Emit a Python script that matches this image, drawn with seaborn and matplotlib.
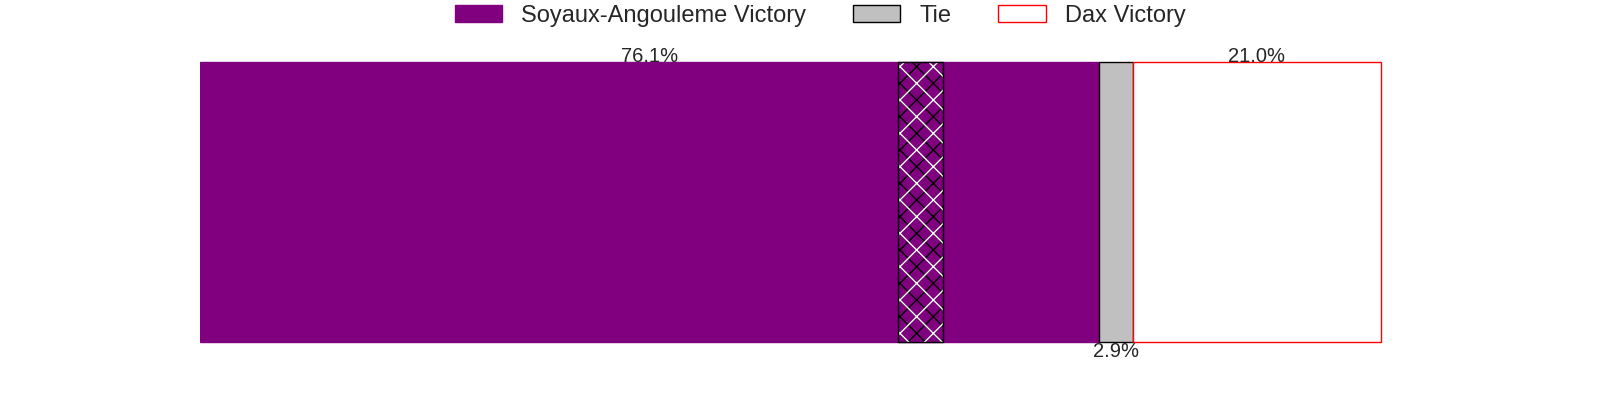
import numpy as np
import matplotlib
matplotlib.use('Agg')
import matplotlib.pyplot as plt
import seaborn as sns

# outcome shares (fractions)
outcomes = ['Soyaux-Angouleme Victory', 'Tie', 'Dax Victory']
shares = [0.761, 0.029, 0.210]
labels = ['76.1%', '2.9%', '21.0%']

# hatched band inside the home-win segment
band_start = 0.591
band_end = 0.629

sns.set_style('white')
plt.rcParams['font.family'] = ['Liberation Sans', 'DejaVu Sans']

fig, ax = plt.subplots(figsize=(16, 4), dpi=100)

lefts = np.concatenate([[0], np.cumsum(shares)[:-1]])
faces = ['purple', 'silver', 'white']
edges = ['purple', 'black', 'red']

for name, share, left, fc, ec in zip(outcomes, shares, lefts, faces, edges):
    ax.barh(0, share, left=left, color=fc, edgecolor=ec, label=name, linewidth=1)

# hatched band: black 'xx' under white 'x' gives alternating lines
band_w = band_end - band_start
ax.barh(0, band_w, left=band_start, color='purple', edgecolor='black', hatch='xx', linewidth=0)
ax.barh(0, band_w, left=band_start, fill=False, edgecolor='white', hatch='x', linewidth=0)
ax.barh(0, band_w, left=band_start, fill=False, edgecolor='black', linewidth=1)

# percentage labels: home and away above, tie below
for i, (share, left, lab) in enumerate(zip(shares, lefts, labels)):
    x = left + share / 2
    if i == 1:
        ax.text(x, -0.4, lab, ha='center', va='top', fontsize=14.5)
    else:
        ax.text(x, 0.4, lab, ha='center', va='baseline', fontsize=14.5)

ax.set_xticks([])
ax.set_yticks([])
sns.despine(ax=ax, left=True, bottom=True)

ax.legend(loc='upper center', bbox_to_anchor=(0.5, 1.21), ncol=3, frameon=False,
          fontsize=17)

plt.savefig('out.png')
